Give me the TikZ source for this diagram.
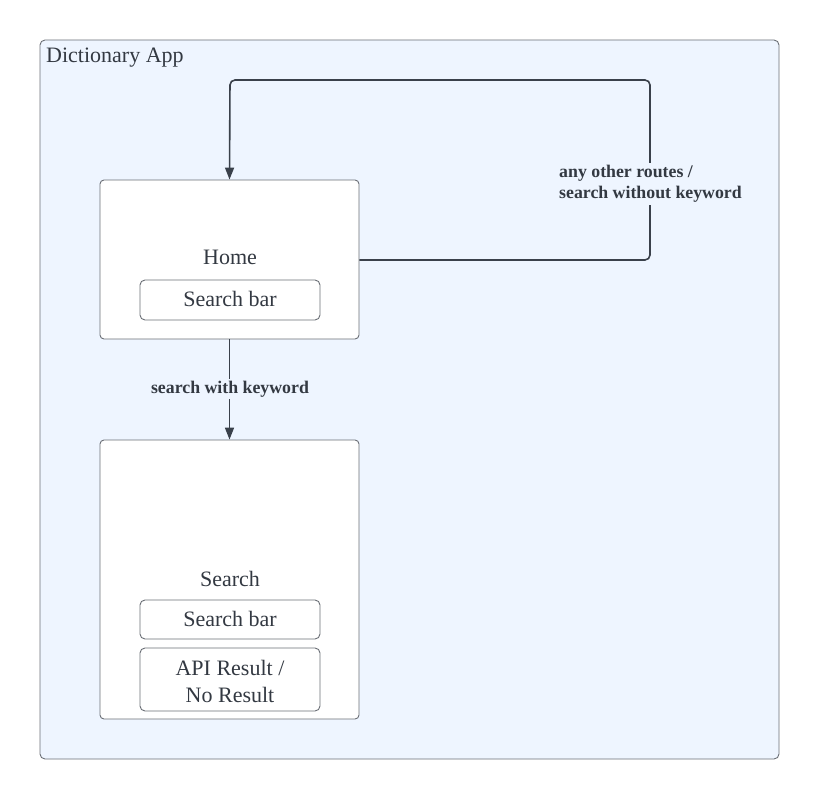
\documentclass[tikz,border=0pt]{standalone}
\usepackage{fontspec}
\setmainfont{Liberation Serif}
\usetikzlibrary{arrows.meta,positioning}
\definecolor{bgblue}{HTML}{EEF5FF}
\definecolor{boxline}{HTML}{6B6F76}
\definecolor{arrowline}{HTML}{3A414B}
\definecolor{txt}{HTML}{333942}
\tikzset{
  screen/.style={draw=boxline, fill=white, rounded corners=4pt, line width=0.9pt},
  inner/.style={draw=boxline, fill=white, rounded corners=5pt, line width=0.9pt},
  conn/.style={draw=arrowline, line width=1.6pt, -{Triangle[length=12pt,width=9pt]}},
  maintext/.style={text=txt, font=\fontsize{22}{26}\selectfont, inner sep=0pt},
  lbl/.style={text=txt, font=\bfseries\fontsize{17.8}{21}\selectfont, inner sep=2pt, fill=bgblue}
}
\begin{document}
\begin{tikzpicture}[x=1pt,y=-1pt]
\useasboundingbox (0,0) rectangle (820,800);
% container
\draw[draw=boxline, fill=bgblue, rounded corners=5pt, line width=0.9pt] (40,40) rectangle (779,759);
\node[maintext, anchor=west] (title) at (46,58) {Dictionary App};
% Home
\node[screen, minimum width=259pt, minimum height=159pt, inner sep=0pt] (home) at (229.5,259.5) {};
\node[maintext] (hometext) at (230,257) {Home};
\node[inner, minimum width=180pt, minimum height=40pt, inner sep=0pt] (hsb) at (230,300) {};
\node[maintext] (hsbtext) at (230,299) {Search bar};
% Search
\node[screen, minimum width=259pt, minimum height=279pt, inner sep=0pt] (search) at (229.5,579.5) {};
\node[maintext] (searchtext) at (230,579) {Search};
\node[inner, minimum width=180pt, minimum height=39pt, inner sep=0pt] (ssb) at (230,619.5) {};
\node[maintext] (ssbtext) at (230,619) {Search bar};
\node[inner, minimum width=180pt, minimum height=63pt, inner sep=0pt] (api) at (230,679.5) {};
\node[maintext, align=center, font=\fontsize{22}{27}\selectfont] (apitext) at (230,681) {API Result /\\No Result};
% connectors
\coordinate (c1) at (650,260);
\coordinate (c2) at (650,80);
\coordinate (c3) at (230,80);
\draw[conn, rounded corners=5pt] (home.east |- 0,260) -- (c1) -- (c2) -- (c3) -- (home.north);
\node[lbl, align=left, anchor=west] (looplbl) at (557,184) {any other routes /\\search without keyword};
\draw[conn] (home.south) -- (search.north);
\node[lbl] (kwlbl) at (230,389) {search with keyword};
\end{tikzpicture}
\end{document}
